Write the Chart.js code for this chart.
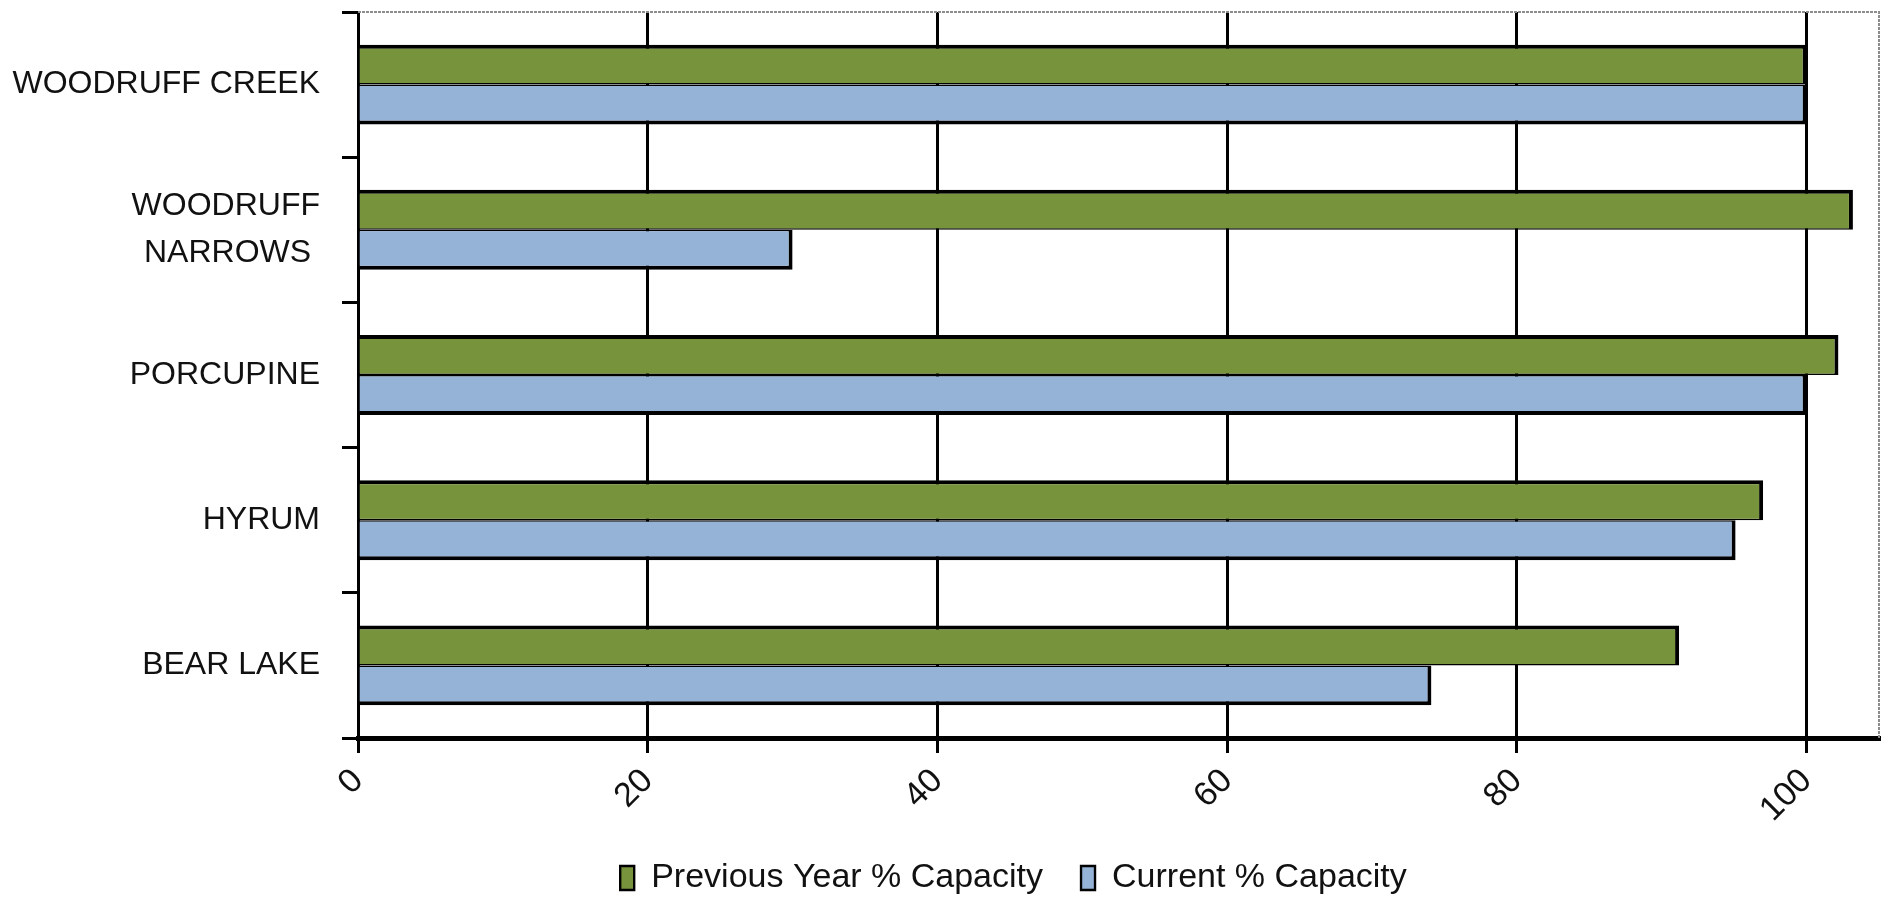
<!DOCTYPE html>
<html>
<head>
<meta charset="utf-8">
<script src="https://cdn.jsdelivr.net/npm/chart.js@4/dist/chart.umd.min.js"></script>
<style>
  html, body { margin: 0; padding: 0; background: #ffffff; }
  #c { display: block; }
</style>
</head>
<body>
<canvas id="c" width="1889" height="898"></canvas>
<script>
// Reservoir storage, percent of capacity
const reservoirs = ['WOODRUFF CREEK', ['WOODRUFF', 'NARROWS '], 'PORCUPINE', 'HYRUM', 'BEAR LAKE'];
const previousYear = [100, 103.2, 102.2, 97, 91.2];
const currentYear = [100, 30, 100, 95.1, 74.1];
const capacityTicks = [0, 20, 40, 60, 80, 100];
const seriesNames = ['Previous Year % Capacity', 'Current % Capacity'];

const GREEN = '#77933C';
const BLUE = '#95B3D7';
const FONT = '"Liberation Sans", Arial, sans-serif';
const LEGEND_SHIFT = 74;   // moves the legend row right, under the plot

// Gray outline along the top and right of the plot area
const framePlugin = {
  id: 'frame',
  afterLayout(chart) {
    if (chart.legend) {
      chart.legend.left += LEGEND_SHIFT;
      chart.legend.right += LEGEND_SHIFT;
    }
  },
  afterDraw(chart) {
    const { ctx, chartArea: a } = chart;
    ctx.save();
    ctx.strokeStyle = '#8c8c8c';
    ctx.lineWidth = 2;
    ctx.setLineDash([3, 1]);
    ctx.beginPath();
    ctx.moveTo(a.left, a.top);
    ctx.lineTo(a.right, a.top);
    ctx.lineTo(a.right, a.bottom);
    ctx.stroke();
    ctx.restore();
  }
};

new Chart(document.getElementById('c'), {
  type: 'bar',
  data: {
    labels: reservoirs,
    datasets: [
      {
        label: seriesNames[0],
        data: previousYear,
        backgroundColor: GREEN,
        borderColor: '#000000',
        borderWidth: { top: 4, right: 4, bottom: 1.5, left: 0 },
        borderSkipped: false
      },
      {
        label: seriesNames[1],
        data: currentYear,
        backgroundColor: BLUE,
        borderColor: '#000000',
        borderWidth: { top: 1.5, right: 4, bottom: 4, left: 0 },
        borderSkipped: false
      }
    ]
  },
  options: {
    indexAxis: 'y',
    responsive: false,
    devicePixelRatio: 1,
    animation: false,
    categoryPercentage: 0.55,
    barPercentage: 1.0,
    layout: { padding: { top: 12, right: 10, left: 0, bottom: -7 } },
    scales: {
      x: {
        type: 'linear',
        min: 0,
        max: 105,
        afterBuildTicks(scale) {
          scale.ticks = capacityTicks.map(v => ({ value: v }));
        },
        afterFit(scale) {
          scale.height = 85;
          scale.paddingLeft = 0;
          scale.paddingRight = 0;
        },
        border: { display: true, color: '#000000', width: 5 },
        grid: {
          color: '#000000',
          lineWidth: 3,
          drawTicks: true,
          tickLength: 15,
          tickColor: '#000000',
          tickWidth: 3
        },
        ticks: {
          minRotation: 45,
          maxRotation: 45,
          padding: 8,
          color: '#111111',
          font: { family: FONT, size: 34 }
        }
      },
      y: {
        afterFit(scale) {
          scale.width = 358;
          scale.paddingTop = 0;
          scale.paddingBottom = 0;
        },
        border: { display: true, color: '#000000', width: 3 },
        grid: {
          drawOnChartArea: false,
          drawTicks: true,
          tickLength: 16,
          color: '#000000',
          lineWidth: 3
        },
        ticks: {
          padding: 22,
          color: '#111111',
          font: { family: FONT, size: 32, lineHeight: 1.45 }
        }
      }
    },
    plugins: {
      tooltip: { enabled: false },
      legend: {
        position: 'bottom',
        labels: {
          boxWidth: 14,
          boxHeight: 24,
          padding: 38,
          color: '#111111',
          font: { family: FONT, size: 34 }
        }
      }
    }
  },
  plugins: [framePlugin]
});
</script>
</body>
</html>
